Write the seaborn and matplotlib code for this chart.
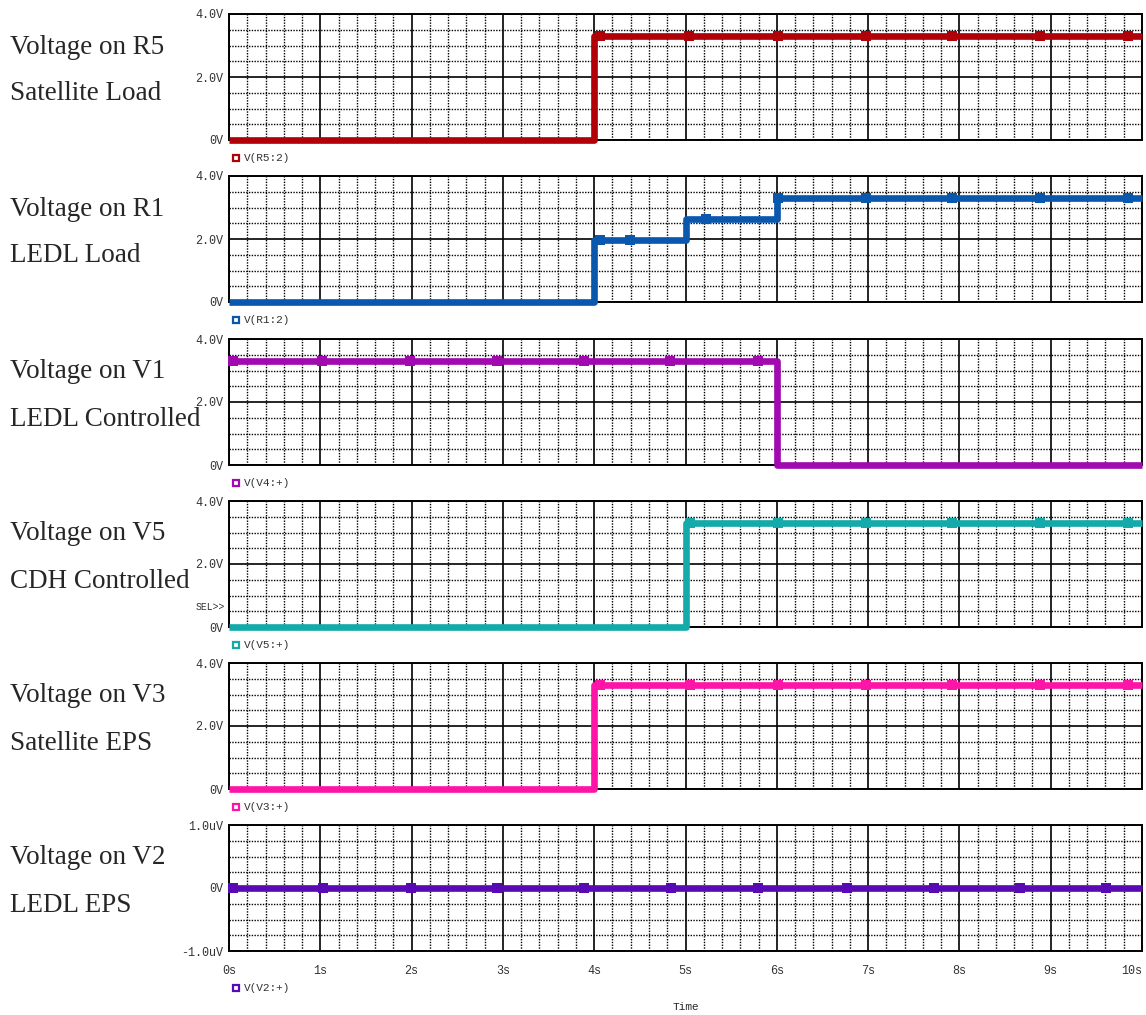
import numpy as np
import pandas as pd
import matplotlib
matplotlib.use("Agg")
import matplotlib.pyplot as plt
from matplotlib.lines import Line2D
from matplotlib.ticker import MultipleLocator, FuncFormatter
import seaborn as sns

sns.set_style("white")
plt.rcParams["font.family"] = ["Liberation Mono", "DejaVu Sans Mono"]

# Step breakpoints (time in s, voltage in V) for each probed node
r5_t = [0, 4, 10]
r5_v = [0.0, 3.3, 3.3]
r1_t = [0, 4, 5, 6, 10]
r1_v = [0.0, 1.98, 2.64, 3.3, 3.3]
v4_t = [0, 6, 10]
v4_v = [3.3, 0.0, 0.0]
v5_t = [0, 5, 10]
v5_v = [0.0, 3.3, 3.3]
v3_t = [0, 4, 10]
v3_v = [0.0, 3.3, 3.3]
v2_t = [0, 10]
v2_v = [0.0, 0.0]

# Trace symbol positions (s)
r5_m = [4.06, 5.04, 6.01, 6.98, 7.92, 8.88, 9.85]
r1_m = [4.06, 4.39, 5.22, 6.01, 6.98, 7.92, 8.88, 9.85]
v4_m = [0.04, 1.02, 1.98, 2.94, 3.89, 4.83, 5.79]
v5_m = [5.05, 6.01, 6.98, 7.92, 8.88, 9.85]
v3_m = [4.06, 5.05, 6.01, 6.98, 7.92, 8.88, 9.85]
v2_m = [0.04, 1.03, 1.99, 2.94, 3.89, 4.84, 5.79, 6.77, 7.72, 8.66, 9.61]

titles = [
    ("Voltage on R5", "Satellite Load"),
    ("Voltage on R1", "LEDL Load"),
    ("Voltage on V1", "LEDL Controlled"),
    ("Voltage on V5", "CDH Controlled"),
    ("Voltage on V3", "Satellite EPS"),
    ("Voltage on V2", "LEDL EPS"),
]
trace_names = ["V(R5:2)", "V(R1:2)", "V(V4:+)", "V(V5:+)", "V(V3:+)", "V(V2:+)"]
colors = ["#B00008", "#0A58AE", "#A00AAE", "#14AAAA", "#FF14A8", "#5A0AB4"]
x_ticks = ["0s", "1s", "2s", "3s", "4s", "5s", "6s", "7s", "8s", "9s", "10s"]

series = [
    (r5_t, r5_v, r5_m),
    (r1_t, r1_v, r1_m),
    (v4_t, v4_v, v4_m),
    (v5_t, v5_v, v5_m),
    (v3_t, v3_v, v3_m),
    (v2_t, v2_v, v2_m),
]

W, H = 1146, 1015
fig = plt.figure(figsize=(W / 100, H / 100), dpi=100)

left_px, right_px = 229, 1142
tops_px = [14, 176, 339, 501, 663, 825]
panel_h = 126


def step_value(tb, vb, t):
    idx = np.searchsorted(tb, t, side="right") - 1
    return np.asarray(vb)[np.clip(idx, 0, len(vb) - 1)]


for i, ((tb, vb, tm), col) in enumerate(zip(series, colors)):
    top = tops_px[i]
    ax = fig.add_axes([left_px / W, 1 - (top + panel_h) / H,
                       (right_px - left_px) / W, panel_h / H])
    last = i == len(series) - 1
    scale = 1e-6 if last else 1.0

    df = pd.DataFrame({"t": tb, "v": np.asarray(vb) / scale})
    sns.lineplot(data=df, x="t", y="v", ax=ax, color=col, linewidth=4.8,
                 drawstyle="steps-post", estimator=None, legend=False,
                 solid_capstyle="butt", zorder=5, clip_on=False)
    mk = pd.DataFrame({"t": tm, "v": step_value(tb, vb, tm) / scale})
    sns.scatterplot(data=mk, x="t", y="v", ax=ax, color=col, marker="s",
                    s=60, edgecolor=col, linewidth=0, legend=False, zorder=6,
                    clip_on=False)

    ax.set_xlim(0, 10)
    if last:
        ax.set_ylim(-1, 1)
        ax.yaxis.set_major_locator(MultipleLocator(1))
        ax.yaxis.set_minor_locator(MultipleLocator(0.25))
        ax.yaxis.set_major_formatter(FuncFormatter(
            lambda v, p: "0V" if abs(v) < 1e-9 else f"{v:.1f}uV"))
    else:
        ax.set_ylim(0, 4)
        ax.yaxis.set_major_locator(MultipleLocator(2))
        ax.yaxis.set_minor_locator(MultipleLocator(0.5))
        ax.yaxis.set_major_formatter(FuncFormatter(
            lambda v, p: "0V" if abs(v) < 1e-9 else f"{v:.1f}V"))
    ax.xaxis.set_major_locator(MultipleLocator(1))
    ax.xaxis.set_minor_locator(MultipleLocator(0.2))

    ax.grid(which="major", color="black", linestyle="-", linewidth=1.2)
    ax.grid(which="minor", color="black", linestyle=(0, (1, 1)), linewidth=1.0)
    ax.set_axisbelow(True)
    for s in ax.spines.values():
        s.set_color("black")
        s.set_linewidth(1.4)

    ax.tick_params(axis="y", which="major", direction="out", length=3,
                   width=1, labelsize=8.5, colors="black", pad=1)
    ax.tick_params(which="minor", length=0)
    if last:
        ax.set_xticks(range(11))
        ax.set_xticklabels(x_ticks)
        ax.tick_params(axis="x", which="major", direction="out", length=6,
                       width=1.2, labelsize=8.5, pad=4)
        xl = ax.get_xticklabels()
        xl[-1].set_horizontalalignment("right")
        ax.set_xlabel("Time", fontsize=8, labelpad=18)
    else:
        ax.tick_params(axis="x", which="major", length=0, labelbottom=False)
        ax.set_xlabel("")
    ax.set_ylabel("")
    for lab in ax.get_yticklabels() + ax.get_xticklabels():
        lab.set_color("#333333")

    # Trace legend below each panel
    ly = top + panel_h + (37 if last else 18)
    fig.add_artist(Line2D([236 / W], [1 - ly / H], marker="s", markersize=4,
                          markerfacecolor="white", markeredgecolor=col,
                          markeredgewidth=1.6, linestyle="none"))
    fig.text(244 / W, 1 - ly / H, trace_names[i], color="#333333",
             fontsize=8, ha="left", va="center")

    # Panel description on the left
    l1, l2 = titles[i]
    fig.text(10 / W, 1 - (top + 33) / H, l1, fontsize=19.5,
             family=["Liberation Serif"], ha="left", va="center")
    fig.text(10 / W, 1 - (top + 80) / H, l2, fontsize=19.5,
             family=["Liberation Serif"], ha="left", va="center")

    if i == 3:
        ax.text(-0.004, 0.16, "SEL>>", transform=ax.transAxes, fontsize=7,
                ha="right", va="center", color="#333333")

fig.savefig("out.png", dpi=100, facecolor="white")
